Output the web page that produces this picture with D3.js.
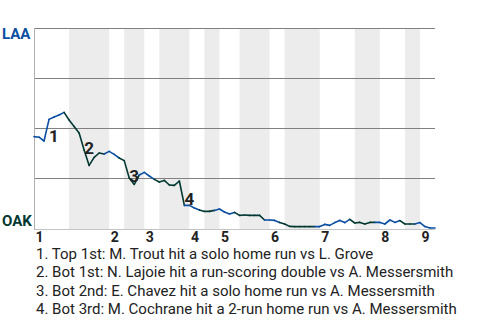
<!DOCTYPE html>
<html>
<head>
<meta charset="utf-8">
<script src="https://cdn.jsdelivr.net/npm/d3@7"></script>
<style>
  html, body { margin: 0; padding: 0; background: #fff; }
  svg { display: block; font-family: Roboto, "Noto Sans", sans-serif; }
</style>
</head>
<body>
<div id="chart"></div>
<script>
// LAA win probability (%) after each play
const winProb = [
  45.7, 45.4, 43.5, 54.3, 55.5, 56.5, 57.8, 54.0, 50.8, 47.5,
  39.0, 31.3, 35.3, 37.5, 37.0, 38.3, 36.8, 35.0, 33.7, 25.0,
  21.8, 26.5, 27.8, 26.0, 24.3, 23.0, 23.8, 21.5, 21.3, 23.5,
  11.3, 11.3, 10.0, 9.0, 8.3, 8.3, 8.8, 9.5, 8.0, 7.0,
  7.8, 6.3, 6.5, 6.3, 6.3, 6.3, 4.0, 4.0, 3.8, 2.8,
  2.0, 0.8, 0.7, 0.7, 0.7, 0.7, 0.7, 0.7, 1.8, 1.3,
  2.7, 3.8, 2.7, 4.3, 2.5, 2.8, 2.0, 2.8, 2.8, 2.8,
  2.0, 4.0, 2.8, 3.7, 2.0, 2.0, 2.0, 2.7, 0.7, 0.0,
  0.0
];

// play index where each half inning starts
const topStarts = [0, 15, 22, 31, 37, 47, 57, 69, 77];
const botStarts = [7, 18, 25, 34, 41, 50, 64, 74];
const lastPlay = 80;
const inningLabels = ['1', '2', '3', '4', '5', '6', '7', '8', '9'];

const gridTicks = [25, 50, 75, 100];

const awayTeam = 'LAA';
const homeTeam = 'OAK';
const awayColor = '#0b4fa3';
const homeColor = '#003831';

const eventPlays = [3, 10, 19, 30];
const eventTexts = [
  'Top 1st: M. Trout hit a solo home run vs L. Grove',
  'Bot 1st: N. Lajoie hit a run-scoring double vs A. Messersmith',
  'Bot 2nd: E. Chavez hit a solo home run vs A. Messersmith',
  'Bot 3rd: M. Cochrane hit a 2-run home run vs A. Messersmith'
];

const width = 480, height = 320;
const margin = { top: 28, right: 45, bottom: 92, left: 34 };

const svg = d3.select('#chart').append('svg')
  .attr('width', width)
  .attr('height', height);

const x = d3.scaleLinear()
  .domain([0, lastPlay])
  .range([margin.left, width - margin.right]);

const y = d3.scaleLinear()
  .domain([0, 100])
  .range([height - margin.bottom, margin.top]);

// shaded bottom halves
const bands = botStarts.map((s, i) => ({ start: s, end: topStarts[i + 1] }));
svg.append('g')
  .selectAll('rect')
  .data(bands)
  .join('rect')
  .attr('x', d => x(d.start))
  .attr('width', d => x(d.end) - x(d.start))
  .attr('y', y(100))
  .attr('height', y(0) - y(100) + 1)
  .attr('fill', '#ececec');

// gridlines
svg.append('g')
  .selectAll('line')
  .data(gridTicks)
  .join('line')
  .attr('x1', x(0))
  .attr('x2', x(lastPlay))
  .attr('y1', d => Math.round(y(d)) + 0.5)
  .attr('y2', d => Math.round(y(d)) + 0.5)
  .attr('stroke', '#808080')
  .attr('stroke-width', 1);

// axes lines
svg.append('line')
  .attr('x1', x(0)).attr('x2', x(lastPlay))
  .attr('y1', y(0) + 1.5).attr('y2', y(0) + 1.5)
  .attr('stroke', '#c4c4c4');
svg.append('line')
  .attr('x1', x(0) + 0.5).attr('x2', x(0) + 0.5)
  .attr('y1', y(100)).attr('y2', y(0) + 2)
  .attr('stroke', '#b0b0b0');

// which half is a play in
function isBottom(i) {
  return botStarts.some((s, k) => i >= s && i < topStarts[k + 1]);
}

const segs = d3.range(winProb.length - 1).map(i => ({
  a: i, b: i + 1, bottom: isBottom(i + 1)
}));

svg.append('g')
  .selectAll('line')
  .data(segs)
  .join('line')
  .attr('x1', d => x(d.a))
  .attr('y1', d => y(winProb[d.a]))
  .attr('x2', d => x(d.b))
  .attr('y2', d => y(winProb[d.b]))
  .attr('stroke', d => d.bottom ? homeColor : awayColor)
  .attr('stroke-width', 1.6)
  .attr('stroke-linecap', 'round');

// event markers
svg.append('g')
  .selectAll('text')
  .data(eventPlays)
  .join('text')
  .attr('x', d => x(d))
  .attr('y', d => (y(winProb[d - 1]) + y(winProb[d])) / 2)
  .attr('dy', '0.72em')
  .attr('font-size', 17)
  .attr('font-weight', 'bold')
  .attr('fill', '#222')
  .text((d, i) => i + 1);

// team labels
svg.append('text')
  .attr('x', 2)
  .attr('y', y(100) + 11)
  .attr('font-size', 15)
  .attr('font-weight', 'bold')
  .attr('fill', awayColor)
  .text(awayTeam);
svg.append('text')
  .attr('x', 2)
  .attr('y', y(0) - 2)
  .attr('font-size', 15)
  .attr('font-weight', 'bold')
  .attr('fill', homeColor)
  .text(homeTeam);

// inning numbers
svg.append('g')
  .selectAll('text')
  .data(topStarts)
  .join('text')
  .attr('x', d => x(d) + 1.5)
  .attr('y', y(0) + 14)
  .attr('font-size', 14)
  .attr('font-weight', 'bold')
  .attr('fill', '#222')
  .text((d, i) => inningLabels[i]);

// event descriptions
svg.append('g')
  .selectAll('text')
  .data(eventTexts)
  .join('text')
  .attr('x', 36)
  .attr('y', (d, i) => 259 + i * 18.3)
  .attr('font-size', 15)
  .attr('fill', '#222')
  .text((d, i) => (i + 1) + '. ' + d);
</script>
</body>
</html>
